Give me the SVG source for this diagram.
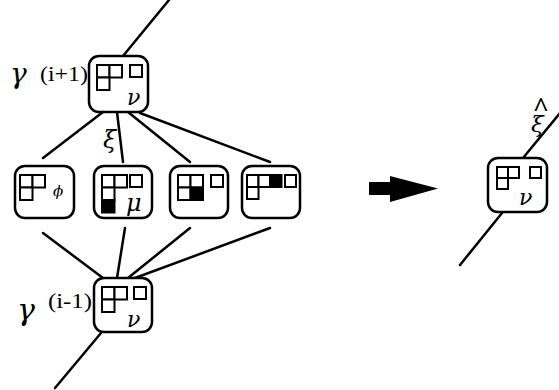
<svg xmlns="http://www.w3.org/2000/svg" width="559" height="390" viewBox="0 0 559 390">
<style>
.box{fill:#fff;stroke:#000;stroke-width:2.5}
.c{fill:#fff;stroke:#000;stroke-width:2}
.k{fill:#000;stroke:#000;stroke-width:2}
.ln{stroke:#000;stroke-width:2.5;fill:none;stroke-linecap:round}
.t{font-family:"Liberation Serif","Times New Roman",serif;fill:#000}
.g{font-family:"DejaVu Serif",serif;font-style:italic;fill:#000}
</style>
<rect width="559" height="390" fill="#fff"/>
<g id="connectors">
<line class="ln" x1="123" y1="56" x2="169" y2="0"/>
<line class="ln" x1="103" y1="112" x2="43" y2="158"/>
<line class="ln" x1="117" y1="112" x2="123" y2="162"/>
<line class="ln" x1="128" y1="112" x2="190" y2="162"/>
<line class="ln" x1="140" y1="113" x2="270" y2="162"/>
<line class="ln" x1="43" y1="233" x2="103" y2="278"/>
<line class="ln" x1="125" y1="228" x2="117" y2="278"/>
<line class="ln" x1="190" y1="228" x2="128" y2="278"/>
<line class="ln" x1="270" y1="228" x2="135" y2="278"/>
<line class="ln" x1="101" y1="333" x2="55" y2="388"/>
<line class="ln" x1="523" y1="158" x2="560" y2="113"/>
<line class="ln" x1="502" y1="213" x2="460" y2="265"/>
</g>
<g id="arrow">
<polygon points="369,182 390,182 390,176 438,188.5 390,202 390,195 369,195" fill="#000"/>
</g>
<g id="node-top">
<rect class="box" x="89" y="56" width="59" height="56" rx="10"/>
<rect class="c" x="97" y="65" width="12.5" height="12.5"/>
<rect class="c" x="109.5" y="65" width="12.5" height="12.5"/>
<rect class="c" x="97" y="77.5" width="12.5" height="12.5"/>
<rect class="c" x="130" y="65" width="12" height="12"/>
<text class="g" x="127" y="105" font-size="22">ν</text>
</g>
<g id="label-top">
<text class="g" x="10" y="83" font-size="28">γ</text>
<text class="t" x="40" y="81" font-size="21" textLength="48" lengthAdjust="spacingAndGlyphs">(i+1)</text>
</g>
<text class="g" x="103" y="148" font-size="24">ξ</text>
<g id="node-1">
<rect class="box" x="15" y="166" width="59" height="52" rx="10"/>
<rect class="c" x="20" y="175" width="12.5" height="12.5"/>
<rect class="c" x="32.5" y="175" width="12.5" height="12.5"/>
<rect class="c" x="20" y="187.5" width="12.5" height="12.5"/>
<text class="g" x="53" y="196" font-size="15">ϕ</text>
</g>
<g id="node-2">
<rect class="box" x="94" y="166" width="58" height="52" rx="10"/>
<rect class="c" x="102" y="175" width="12.5" height="12.5"/>
<rect class="c" x="114.5" y="175" width="12.5" height="12.5"/>
<rect class="c" x="102" y="187.5" width="12.5" height="12.5"/>
<rect class="k" x="102" y="200" width="12.5" height="12.5"/>
<rect class="c" x="130" y="175" width="12" height="12"/>
<text class="g" x="126" y="211" font-size="24">μ</text>
</g>
<g id="node-3">
<rect class="box" x="170" y="166" width="58" height="52" rx="10"/>
<rect class="c" x="178" y="175" width="12.5" height="12.5"/>
<rect class="c" x="190.5" y="175" width="12.5" height="12.5"/>
<rect class="c" x="178" y="187.5" width="12.5" height="12.5"/>
<rect class="k" x="190.5" y="187.5" width="12.5" height="12.5"/>
<rect class="c" x="211" y="175" width="12" height="12"/>
</g>
<g id="node-4">
<rect class="box" x="242" y="166" width="58" height="52" rx="10"/>
<rect class="c" x="247" y="175" width="11.5" height="12"/>
<rect class="c" x="258.5" y="175" width="11.5" height="12"/>
<rect class="k" x="270" y="175" width="11.5" height="12"/>
<rect class="c" x="247" y="187" width="11.5" height="12"/>
<rect class="c" x="285" y="175" width="11" height="12"/>
</g>
<g id="node-bottom">
<rect class="box" x="94" y="278" width="58" height="54" rx="10"/>
<rect class="c" x="102" y="287" width="12.5" height="12.5"/>
<rect class="c" x="114.5" y="287" width="12.5" height="12.5"/>
<rect class="c" x="102" y="299.5" width="12.5" height="12.5"/>
<rect class="c" x="134" y="287" width="12" height="12"/>
<text class="g" x="127" y="327" font-size="22">ν</text>
</g>
<g id="label-bottom">
<text class="g" x="17" y="320" font-size="30">γ</text>
<text class="t" x="48" y="308" font-size="21" textLength="44" lengthAdjust="spacingAndGlyphs">(i-1)</text>
</g>
<g id="node-right">
<rect class="box" x="488" y="158" width="59" height="54" rx="10"/>
<rect class="c" x="497" y="167" width="11" height="11"/>
<rect class="c" x="508" y="167" width="11" height="11"/>
<rect class="c" x="497" y="178" width="11" height="11"/>
<rect class="c" x="530" y="167" width="11" height="11"/>
<text class="g" x="519" y="205" font-size="22">ν</text>
</g>
<text id="label-right" class="g" x="531" y="132" font-size="23">ξ<tspan class="t" font-style="normal" font-weight="bold" font-size="28" dx="-11" dy="-16">^</tspan></text>
</svg>
